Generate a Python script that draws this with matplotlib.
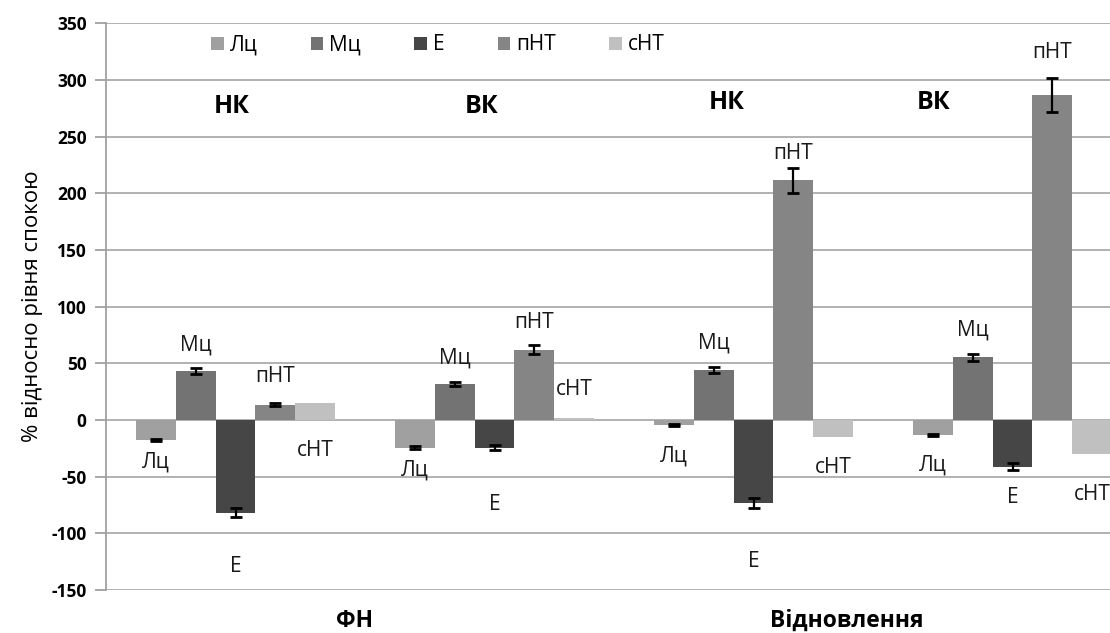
import numpy as np
import matplotlib
matplotlib.use("Agg")
import matplotlib.pyplot as plt
from matplotlib.patches import Patch

plt.rcParams['font.family'] = ['Open Sans', 'DejaVu Sans']
plt.rcParams['axes.unicode_minus'] = False

# data
groups = ['НК', 'ВК', 'НК', 'ВК']
sections = ['ФН', 'Відновлення']
series = ['Лц', 'Мц', 'Е', 'пНТ', 'сНТ']

lc = [-17.6, -24.4, -4.1, -13.2]
mc = [43.2, 31.8, 44.0, 55.3]
e = [-81.8, -24.4, -73.0, -41.2]
pnt = [13.5, 62.0, 211.5, 286.3]
snt = [14.7, 2.0, -15.3, -30.0]

lc_err = [1.0, 1.5, 1.0, 1.0]
mc_err = [2.5, 2.0, 2.5, 3.0]
e_err = [4.0, 2.0, 4.4, 3.0]
pnt_err = [1.5, 3.8, 11.0, 15.0]
snt_err = [0, 0, 0, 0]

# where the series names sit as labels (value axis units)
lc_lab = [-37, -44, -32, -40]
mc_lab = [66, 55, 68, 79]
e_lab = [-129.5, -75, -124.5, -68]
pnt_lab = [38, 86, 235, 324]
snt_lab = [-27, 26.5, -42, -66]

colors = ['#a0a0a0', '#737373', '#464646', '#858585', '#c0c0c0']

values = [lc, mc, e, pnt, snt]
errors = [lc_err, mc_err, e_err, pnt_err, snt_err]
labels_y = [lc_lab, mc_lab, e_lab, pnt_lab, snt_lab]

fig = plt.figure(figsize=(11.1, 6.33), dpi=100)
ax = fig.add_axes([106 / 1110, 43 / 633, 1036 / 1110, 566.7 / 633])

x = np.arange(len(groups))
w = 1 / 6.5

for j, name in enumerate(series):
    pos = x + (j - 2) * w
    ax.bar(pos, values[j], width=w, color=colors[j], zorder=2, label=name)
    err = np.array(errors[j])
    has = err > 0
    if has.any():
        ax.errorbar(pos[has], np.array(values[j])[has], yerr=err[has], fmt='none',
                    ecolor='black', elinewidth=1.6, capsize=4, capthick=2, zorder=3)
    for k in range(len(groups)):
        ax.text(pos[k], labels_y[j][k], name, ha='center', va='center',
                fontsize=15, color='#1a1a1a', zorder=4)

# group headers
head_x = [-0.015, 0.952, 1.898, 2.697]
head_y = [277, 277, 280, 280]
for hx, hy, g in zip(head_x, head_y, groups):
    ax.text(hx, hy, g, ha='center', va='center', fontsize=18, fontweight='bold')

# section names under the axis
sec_x = [0.4614, 2.361]
for sx, s in zip(sec_x, sections):
    ax.text(sx, -0.055, s, transform=ax.get_xaxis_transform(), ha='center', va='center',
            fontsize=16.5, fontweight='bold')

ax.set_xlim(-0.5, 3.5)
ax.set_ylim(-150, 350)
ax.set_yticks(np.arange(-150, 351, 50))
ax.set_xticks([])
ax.yaxis.grid(True, color='#ababab', linewidth=1.3, zorder=0)
ax.set_axisbelow(True)
for side in ['top', 'right', 'bottom']:
    ax.spines[side].set_visible(False)
ax.spines['left'].set_color('#a0a0a0')
ax.spines['left'].set_linewidth(1.3)
ax.tick_params(axis='y', length=8, width=1.3, color='#a0a0a0', labelsize=12.5, pad=6)
for t in ax.get_yticklabels():
    t.set_fontweight('bold')
ax.set_ylabel('% відносно рівня спокою', fontsize=16, labelpad=6)

handles = [Patch(facecolor=c, edgecolor='none') for c in colors]
fig.legend(handles, series, loc='center left', bbox_to_anchor=(211 / 1110, 1 - 45 / 633),
           ncol=5, frameon=False, fontsize=15, handlelength=0.6, handleheight=0.6,
           handletextpad=0.3, columnspacing=2.55, borderpad=0, borderaxespad=0)

fig.savefig('out.png', dpi=100)
